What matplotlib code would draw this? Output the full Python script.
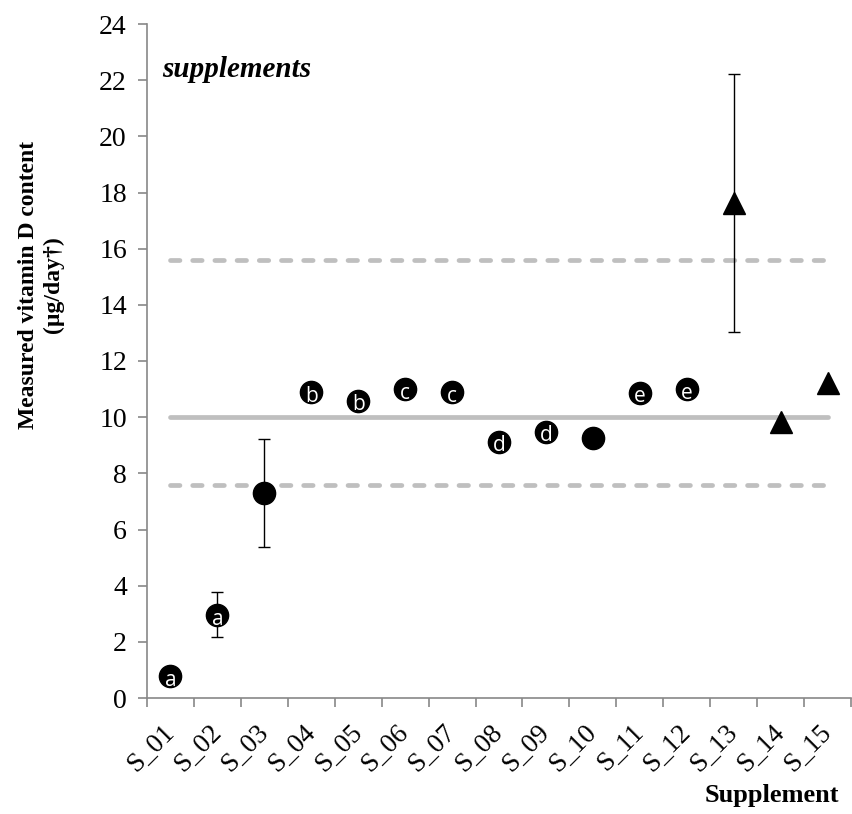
import matplotlib
matplotlib.use("Agg")
import matplotlib.pyplot as plt
import numpy as np

# measured vitamin D content per supplement
supplements = ['S_01', 'S_02', 'S_03', 'S_04', 'S_05', 'S_06', 'S_07', 'S_08',
               'S_09', 'S_10', 'S_11', 'S_12', 'S_13', 'S_14', 'S_15']
measured = [0.78, 2.96, 7.31, 10.89, 10.59, 11.0, 10.89, 9.13,
            9.48, 9.25, 10.87, 10.99, 17.63, 9.84, 11.21]
sd = [0, 0.8, 1.92, 0, 0, 0, 0, 0, 0, 0, 0, 0, 4.6, 0, 0]
letters = ['a', 'a', '', 'b', 'b', 'c', 'c', 'd', 'd', '', 'e', 'e', '', '', '']
shape = ['o'] * 12 + ['^'] * 3

declared = 10.0
limit_low = 7.6
limit_high = 15.6

plt.rcParams['font.family'] = ['Liberation Serif', 'DejaVu Serif']

fig = plt.figure(figsize=(8.52, 8.14), dpi=100)
ax = fig.add_axes([147 / 852, 1 - 698 / 814, 704 / 852, 674 / 814])

x = np.arange(1, len(supplements) + 1)

# reference lines (declared content and tolerance limits)
ax.plot([x[0], x[-1]], [declared, declared], color='#bfbfbf', lw=3.4,
        solid_capstyle='round', zorder=1)
for lim in (limit_low, limit_high):
    ax.plot([x[0], x[-1]], [lim, lim], color='#bfbfbf', lw=3.4,
            dashes=(2.0, 2.7), dash_capstyle='round', zorder=1)

for xi, v, e, m, t in zip(x, measured, sd, shape, letters):
    if e > 0:
        ax.errorbar(xi, v, yerr=e, fmt='none', ecolor='black', elinewidth=1.0,
                    capsize=4.3, capthick=1.0, zorder=2)
    ax.plot(xi, v, marker=m, ms=16, color='black', ls='none', zorder=3)
    if t:
        ax.text(xi, v - 0.15, t, color='white', fontsize=15,
                family=['Open Sans', 'DejaVu Sans'],
                ha='center', va='center', zorder=4)

ax.set_xlim(0.5, len(supplements) + 0.5)
ax.set_ylim(0, 24)
ax.set_yticks(np.arange(0, 25, 2))

ax.set_xticks(np.arange(0.5, len(supplements) + 1, 1))
ax.set_xticklabels([])
ax.set_xticks(x, minor=True)
ax.set_xticklabels(supplements, minor=True, rotation=45, ha='right',
                   va='center', rotation_mode='anchor', fontsize=19.5)
ax.tick_params(axis='x', which='minor', length=0, pad=22)

for s in ('top', 'right'):
    ax.spines[s].set_visible(False)
for s in ('left', 'bottom'):
    ax.spines[s].set_color('#888888')
    ax.spines[s].set_linewidth(1.2)
ax.tick_params(axis='both', which='major', color='#888888', width=1.2,
               length=6.5, labelsize=20, direction='out')
ax.tick_params(axis='y', pad=8)

ax.set_ylabel('Measured vitamin D content\n(µg/day†)', fontsize=17,
              fontweight='bold', va='center', linespacing=1.25)
ax.yaxis.set_label_coords(-0.151, 0.613)

ax.set_xlabel('Supplement', fontsize=19, fontweight='bold', ha='right',
              va='center')
ax.xaxis.set_label_coords(0.983, -0.144)

ax.text(0.021, 0.921, 'supplements', transform=ax.transAxes, fontsize=21,
        fontweight='bold', fontstyle='italic', va='baseline')

plt.savefig('out.png', dpi=100)
